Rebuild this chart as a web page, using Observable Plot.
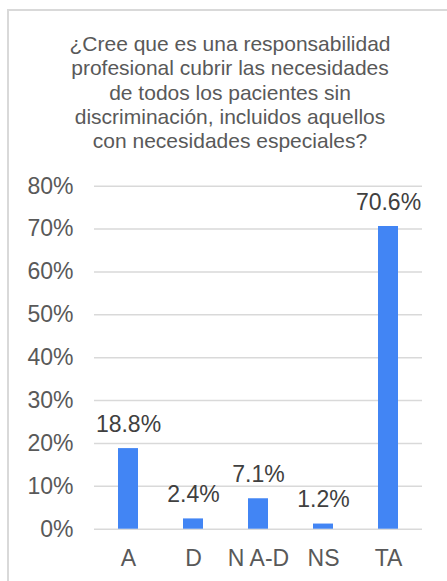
<!DOCTYPE html>
<html>
<head>
<meta charset="utf-8">
<script src="https://cdn.jsdelivr.net/npm/d3@7"></script>
<script src="https://cdn.jsdelivr.net/npm/@observablehq/plot@0.6"></script>
<style>
  html, body { margin: 0; padding: 0; background: #fff; width: 447px; height: 581px; overflow: hidden; }
  #frame { position: absolute; left: 7px; top: 9px; width: 470px; height: 600px; border: 2px solid #d9d9d9; box-sizing: border-box; }
  #title { position: absolute; left: 15px; width: 430px; top: 32px; text-align: center;
    font-family: "Liberation Sans", Arial, sans-serif; font-size: 21px; line-height: 24.3px; color: #595959; }
  #chart { position: absolute; left: 0; top: 170px; }
</style>
</head>
<body>
<div id="frame"></div>
<div id="title">¿Cree que es una responsabilidad<br>profesional cubrir las necesidades<br>de todos los pacientes sin<br>discriminación, incluidos aquellos<br>con necesidades especiales?</div>
<div id="chart"></div>
<script>
const categories = ["A", "D", "N A-D", "NS", "TA"];
const values = [0.188, 0.024, 0.071, 0.012, 0.706];
const yTicks = [0, 0.1, 0.2, 0.3, 0.4, 0.5, 0.6, 0.7, 0.8];

const data = categories.map((c, i) => ({cat: c, v: values[i]}));
const pct = d3.format(".1%");

const chart = Plot.plot({
  width: 447,
  height: 411,
  marginTop: 15.7,
  marginBottom: 52.3,
  marginLeft: 94,
  marginRight: 25,
  style: { fontFamily: "'Liberation Sans', Arial, sans-serif", fontSize: "23px", color: "#595959", background: "transparent" },
  x: { domain: categories, paddingInner: 0.695, paddingOuter: 0.3475, label: null, tickSize: 0, tickPadding: 20 },
  y: { domain: [0, 0.8], ticks: yTicks, tickFormat: d3.format(".0%"), label: null, tickSize: 0, tickPadding: 21 },
  marks: [
    Plot.ruleY(yTicks, { stroke: "#d9d9d9", strokeWidth: 1.5 }),
    Plot.barY(data, { x: "cat", y: "v", fill: "#4285F4" }),
    Plot.text(data, { x: "cat", y: "v", text: d => pct(d.v), dy: -17, lineAnchor: "bottom", fill: "#404040", fontSize: 23 })
  ]
});
document.getElementById("chart").appendChild(chart);
</script>
</body>
</html>
